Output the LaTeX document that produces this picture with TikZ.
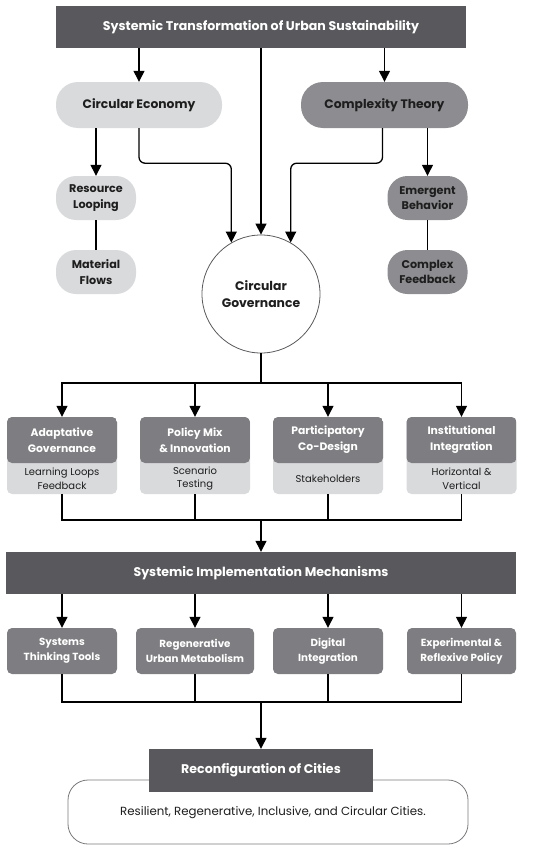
\documentclass[tikz,border=0pt]{standalone}
\usepackage{fontspec}
\setmainfont{Poppins}
\usetikzlibrary{positioning}
\usetikzlibrary{calc}
\usetikzlibrary{arrows.meta}
\definecolor{grisfonce}{HTML}{59585C}
\definecolor{grismoyen}{HTML}{8D8C90}
\definecolor{grisbloc}{HTML}{7E7D81}
\definecolor{grisclair}{HTML}{D9DADC}
\definecolor{encre}{HTML}{1E1E1E}
\tikzset{
    fleche/.style={-{Triangle[length=11pt,width=11pt]},line width=1.3pt,draw=black},
    lien/.style={line width=1.3pt,line cap=rect,draw=black},
    bandeau/.style={rectangle,fill=grisfonce,text=white,inner sep=0pt,
        font=\bfseries\fontsize{12.6}{15}\selectfont},
    pilule/.style={rectangle,rounded corners=22pt,minimum height=46pt,inner sep=0pt,
        text=encre,align=center,font=\bfseries\fontsize{12.3}{15}\selectfont},
    petite/.style={rectangle,rounded corners=20pt,minimum width=80pt,minimum height=44pt,
        inner sep=0pt,text=encre,align=center,font=\bfseries\fontsize{11.2}{15.5}\selectfont},
    bloc/.style={rectangle,rounded corners=5pt,minimum width=110pt,minimum height=77pt,
        fill=grisclair,path picture={\fill[grisbloc] (path picture bounding box.north west)
        rectangle ([yshift=-46pt]path picture bounding box.north east);}},
    titre/.style={text=white,inner sep=0pt,align=center,font=\bfseries\fontsize{10.8}{16}\selectfont},
    sous/.style={text=encre,inner sep=0pt,align=center,font=\fontsize{10}{13.3}\selectfont},
    meca/.style={rectangle,rounded corners=5pt,minimum height=46pt,fill=grisbloc,text=white,
        inner sep=0pt,align=center,font=\bfseries\fontsize{10.3}{15}\selectfont}
}

\begin{document}
\begin{tikzpicture}[x=1pt,y=-1pt]
    \useasboundingbox (0,0) rectangle (550,851);
    % haut du schema
    \node[bandeau,minimum width=410pt,minimum height=42pt] (transfo) at (261,27) {Systemic Transformation of Urban Sustainability};
    \node[pilule,fill=grisclair,minimum width=166pt] (ce) at (139,105) {Circular Economy};
    \node[pilule,fill=grismoyen,minimum width=167pt] (ct) at (384.5,105) {Complexity Theory};
    \node[petite,fill=grisclair] (rl) at (96,198) {Resource\\Looping};
    \node[petite,fill=grisclair] (mf) at (96,272) {Material\\Flows};
    \node[petite,fill=grismoyen] (eb) at (427.5,198) {Emergent\\Behavior};
    \node[petite,fill=grismoyen] (cf) at (427.5,272) {Complex\\Feedback};
    \node[circle,draw=grisfonce,line width=0.8pt,minimum size=118pt,inner sep=0pt,text=encre,
        align=center,font=\bfseries\fontsize{12.4}{17}\selectfont] (gov) at (261,294) {Circular\\Governance};
    \draw[fleche] (transfo.south -| ce.north) -- (ce.north);
    \draw[fleche] (transfo.south -| ct.north) -- (ct.north);
    \draw[fleche] (transfo.south) -- (gov.north);
    \draw[fleche] (ce.south -| rl.north) -- (rl.north);
    \draw[fleche] (ct.south -| eb.north) -- (eb.north);
    \draw[lien] (rl) -- (mf);
    \draw[lien] (eb) -- (cf);
    \draw[fleche,rounded corners=6pt] (ce.south) -- ++(0,35) -| (gov.120);
    \draw[fleche,rounded corners=6pt] ([xshift=-2pt]ct.south) -- ++(0,35) -| (gov.60);
    % gouvernance
    \coordinate (split) at (261,383);
    \coordinate (join1) at (261,520);
    \draw[lien] (gov.south) -- (split);
    \foreach \i/\x/\haut/\bas in {1/62/{Adaptative\\Governance}/{Learning Loops\\Feedback},
        2/195/{Policy Mix\\\& Innovation}/{Scenario\\Testing},
        3/328/{Participatory\\Co-Design}/{Stakeholders},
        4/461.5/{Institutional\\Integration}/{Horizontal \&\\Vertical}}{
        \node[bloc] (b\i) at (\x,455.5) {};
        \node[titre] (h\i) at ([yshift=-23pt]b\i.north) {\haut};
        \node[sous] (s\i) at ([yshift=15.5pt]b\i.south) {\bas};
        \draw[fleche] (split -| b\i.north) -- (b\i.north);
        \draw[lien] (b\i.south) -- (b\i.south |- join1);
    }
    \draw[lien] (split -| b1.north) -- (split -| b4.north);
    \draw[lien] (join1 -| b1.south) -- (join1 -| b4.south);
    % mecanismes
    \node[bandeau,minimum width=510pt,minimum height=42pt] (impl) at (261,573) {Systemic Implementation Mechanisms};
    \draw[fleche] (join1) -- (impl.north);
    \coordinate (join2) at (261,702);
    \foreach \i/\x/\w/\txt in {1/62/110/{Systems\\Thinking Tools},
        2/195/118/{Regenerative\\Urban Metabolism},
        3/328/110/{Digital\\Integration},
        4/461.5/109/{Experimental \&\\Reflexive Policy}}{
        \node[meca,minimum width=\w pt] (m\i) at (\x,651) {\txt};
        \draw[fleche] (impl.south -| m\i.north) -- (m\i.north);
        \draw[lien] (m\i.south) -- (m\i.south |- join2);
    }
    \draw[lien] (join2 -| m1.south) -- (join2 -| m4.south);
    % villes
    \node[draw=grisfonce!80,line width=0.8pt,rounded corners=20pt,minimum width=400pt,minimum height=64pt,
        fill=white] (villes) at (268,812) {};
    \node[text=encre,inner sep=0pt,font=\fontsize{11.8}{14}\selectfont] (villestxt) at (273,813) {Resilient, Regenerative, Inclusive, and Circular Cities.};
    \node[bandeau,minimum width=224pt,minimum height=43pt] (reconf) at (261,770.5) {Reconfiguration of Cities};
    \draw[fleche] (join2) -- (reconf.north);
\end{tikzpicture}
\end{document}
